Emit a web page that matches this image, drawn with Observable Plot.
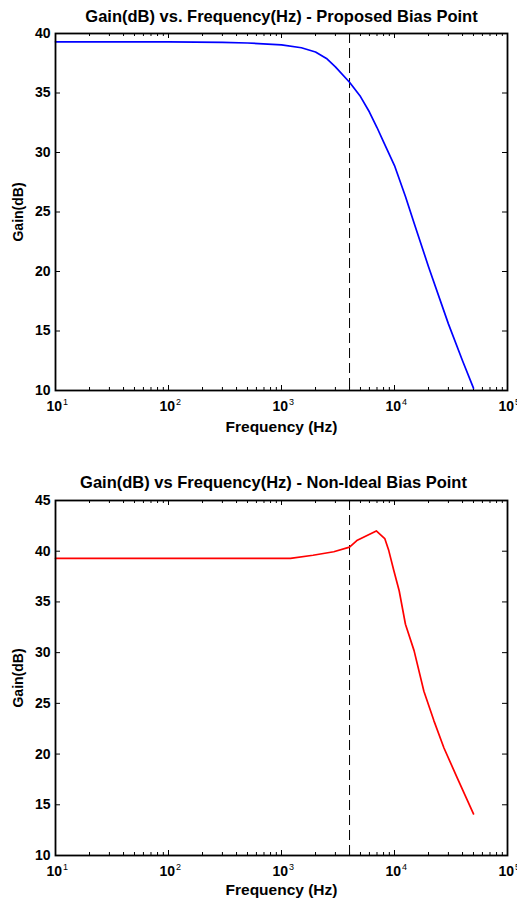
<!DOCTYPE html>
<html>
<head>
<meta charset="utf-8">
<script src="https://cdn.jsdelivr.net/npm/d3@7"></script>
<script src="https://cdn.jsdelivr.net/npm/@observablehq/plot@0.6"></script>
<style>
  html, body { margin: 0; padding: 0; background: #fff; }
  #chart svg { display: block; }
</style>
</head>
<body>
<div id="chart"></div>
<script>
// ---- Data ----
const freqTop = [10, 100, 300, 500, 1000, 1500, 2000, 2500, 3000, 4000, 5000, 6000, 7000, 8000, 10000, 12500, 15000, 20000, 30000, 40000, 50000];
const gainTop = [39.3, 39.3, 39.25, 39.2, 39.05, 38.8, 38.45, 37.9, 37.2, 35.9, 34.7, 33.4, 32.1, 30.9, 28.9, 26.3, 24.0, 20.4, 15.6, 12.5, 10.2];

const freqBottom = [10, 1200, 1900, 2900, 4000, 4640, 6900, 8200, 8900, 9860, 11000, 12500, 14900, 18200, 22300, 27400, 35900, 50000];
const gainBottom = [39.3, 39.3, 39.6, 39.95, 40.4, 41.05, 42.0, 41.25, 40.06, 38.1, 36.1, 32.8, 30.2, 26.2, 23.3, 20.6, 17.65, 14.1];

const biasFreq = [4000];

const xExponents = [1, 2, 3, 4, 5];
const yTicksTop = [10, 15, 20, 25, 30, 35, 40];
const yTicksBottom = [10, 15, 20, 25, 30, 35, 40, 45];

const titleTop = "Gain(dB) vs. Frequency(Hz) - Proposed Bias Point";
const titleBottom = "Gain(dB) vs Frequency(Hz) - Non-Ideal Bias Point";
const xLabel = "Frequency (Hz)";
const yLabel = "Gain(dB)";

// ---- helpers ----
const font = "'Liberation Sans', Arial, Helvetica, sans-serif";
const majorX = xExponents.slice(1, -1).map(e => 10 ** e);
const minorX = xExponents.slice(0, -1).flatMap(e => [2,3,4,5,6,7,8,9].map(m => m * 10 ** e));

function makePanel({freq, gain, color, yDomain, yTicks, title, height, marginTop, marginBottom, titleDy, titleDx, xlabDy}) {
  const width = 517, marginLeft = 55, marginRight = 10;
  const innerH = height - marginTop - marginBottom;
  const innerW = width - marginLeft - marginRight;
  const data = freq.map((f, i) => ({f, g: gain[i]}));
  const majorLen = 5, minorLen = 3;
  return Plot.plot({
    width, height, marginLeft, marginRight, marginTop, marginBottom,
    style: {fontFamily: font, background: "white", overflow: "visible"},
    x: {type: "log", domain: [10, 1e5], axis: null},
    y: {domain: yDomain, axis: null},
    marks: [
      // x ticks (bottom & top, inward)
      Plot.ruleX(majorX, {x: d => d, insetTop: innerH - majorLen, stroke: "black", strokeWidth: 1}),
      Plot.ruleX(majorX, {x: d => d, insetBottom: innerH - majorLen, stroke: "black", strokeWidth: 1}),
      Plot.ruleX(minorX, {x: d => d, insetTop: innerH - minorLen, stroke: "black", strokeWidth: 1}),
      Plot.ruleX(minorX, {x: d => d, insetBottom: innerH - minorLen, stroke: "black", strokeWidth: 1}),
      // y ticks (left & right, inward)
      Plot.ruleY(yTicks, {y: d => d, insetRight: innerW - majorLen, stroke: "black", strokeWidth: 1}),
      Plot.ruleY(yTicks, {y: d => d, insetLeft: innerW - majorLen, stroke: "black", strokeWidth: 1}),
      // bias point marker
      Plot.ruleX(biasFreq, {x: d => d, stroke: "black", strokeWidth: 1, strokeDasharray: "10,5"}),
      // curve
      Plot.line(data, {x: "f", y: "g", stroke: color, strokeWidth: 1.7}),
      Plot.frame({stroke: "black", strokeWidth: 1.8}),
      // y tick labels
      Plot.text(yTicks, {y: d => d, text: d => String(d), frameAnchor: "left", dx: -5, textAnchor: "end", lineAnchor: "middle", fontSize: 14, fontWeight: "bold", fill: "black"}),
      // x tick labels: base "10" and exponent
      Plot.text(xExponents, {x: d => 10 ** d, text: () => "10", frameAnchor: "bottom", dy: 16.5, dx: 6.5, textAnchor: "end", lineAnchor: "middle", fontSize: 14, fontWeight: "bold", fill: "black"}),
      Plot.text(xExponents, {x: d => 10 ** d, text: d => String(d), frameAnchor: "bottom", dy: 12, dx: 7.5, textAnchor: "start", lineAnchor: "middle", fontSize: 9, fill: "black"}),
      // axis labels
      Plot.text([xLabel], {frameAnchor: "bottom", dy: xlabDy, textAnchor: "middle", lineAnchor: "middle", fontSize: 15.5, fontWeight: "bold", fill: "black"}),
      Plot.text([yLabel], {frameAnchor: "left", dx: -37, rotate: -90, textAnchor: "middle", lineAnchor: "middle", fontSize: 14, fontWeight: "bold", fill: "black"}),
      // title
      Plot.text([title], {frameAnchor: "top", dy: titleDy, dx: titleDx, textAnchor: "middle", lineAnchor: "middle", fontSize: 16.5, fontWeight: "bold", fill: "black"})
    ]
  });
}

const chart = document.getElementById("chart");
chart.append(makePanel({
  freq: freqTop, gain: gainTop, color: "#0000ff", yDomain: [10, 40], yTicks: yTicksTop,
  title: titleTop, height: 450, marginTop: 33, marginBottom: 60, titleDy: -17, titleDx: 0, xlabDy: 37
}));
chart.append(makePanel({
  freq: freqBottom, gain: gainBottom, color: "#ff0000", yDomain: [10, 45], yTicks: yTicksBottom,
  title: titleBottom, height: 451, marginTop: 50, marginBottom: 46, titleDy: -18, titleDx: -8, xlabDy: 35
}));
</script>
</body>
</html>
